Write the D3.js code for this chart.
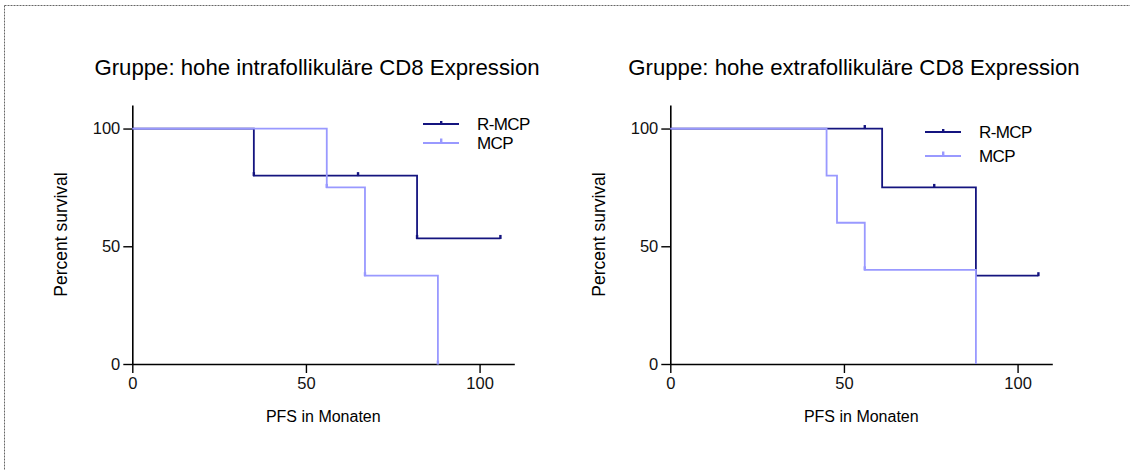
<!DOCTYPE html>
<html>
<head>
<meta charset="utf-8">
<script src="https://cdn.jsdelivr.net/npm/d3@7"></script>
<style>
  body { margin: 0; background: #fff; }
  svg { display: block; font-family: "Liberation Sans", Arial, sans-serif; }
</style>
</head>
<body>
<svg id="chart" width="1130" height="470"></svg>
<script>
// tick values
var xTicks = [0, 50, 100];
var yTicks = [0, 50, 100];
var seriesNames = ["R-MCP", "MCP"];

// left panel: hohe intrafollikuläre CD8 Expression
var leftRmcpTime = [0, 35, 82, 106];
var leftRmcpSurv = [100, 80, 53.33, 53.33];
var leftRmcpMarks = [[35, 80], [65, 80], [82, 53.33], [106, 53.33]];
var leftMcpTime = [0, 56, 67, 88];
var leftMcpSurv = [100, 75, 37.5, 0];
var leftMcpMarks = [[56, 75], [67, 37.5], [88, 0]];

// right panel: hohe extrafollikuläre CD8 Expression
var rightRmcpTime = [0, 61, 88, 106];
var rightRmcpSurv = [100, 75, 37.5, 37.5];
var rightRmcpMarks = [[56, 100], [76, 75], [106, 37.5]];
var rightMcpTime = [0, 45, 48, 56, 88];
var rightMcpSurv = [100, 80, 60, 40, 0];
var rightMcpMarks = [[56, 40]];

var colors = { "R-MCP": "#14147f", "MCP": "#9999ff" };

var svg = d3.select("#chart");

// dotted frame (top and left only)
svg.append("line").attr("x1", 4.5).attr("y1", 5.5).attr("x2", 1130).attr("y2", 5.5)
  .attr("stroke", "#666").attr("stroke-dasharray", "2,1");
svg.append("line").attr("x1", 4.5).attr("y1", 5.5).attr("x2", 4.5).attr("y2", 470)
  .attr("stroke", "#666").attr("stroke-dasharray", "2,1");

var panels = [
  {
    left: 132.3, title: "Gruppe: hohe intrafollikuläre CD8 Expression", titleX: 317,
    legendX: 423, legendY: [124, 143],
    series: [
      { name: "R-MCP", time: leftRmcpTime, surv: leftRmcpSurv, marks: leftRmcpMarks },
      { name: "MCP", time: leftMcpTime, surv: leftMcpSurv, marks: leftMcpMarks }
    ]
  },
  {
    left: 670.3, title: "Gruppe: hohe extrafollikuläre CD8 Expression", titleX: 854,
    legendX: 925, legendY: [132, 156],
    series: [
      { name: "R-MCP", time: rightRmcpTime, surv: rightRmcpSurv, marks: rightRmcpMarks },
      { name: "MCP", time: rightMcpTime, surv: rightMcpSurv, marks: rightMcpMarks }
    ]
  }
];

var plotTop = 105, plotBottom = 364, plotW = 382;

panels.forEach(function(p) {
  var g = svg.append("g").attr("transform", "translate(" + p.left + ",0)");

  var x = d3.scaleLinear().domain([0, 110]).range([0, plotW]);
  var y = d3.scaleLinear().domain([0, 110]).range([plotBottom, plotTop]);

  // title
  svg.append("text")
    .attr("x", p.titleX).attr("y", 75)
    .attr("text-anchor", "middle")
    .attr("font-size", 22.2)
    .text(p.title);

  // axes
  var xAxis = g.append("g")
    .attr("transform", "translate(0," + plotBottom + ")")
    .call(d3.axisBottom(x).tickValues(xTicks).tickSize(9).tickSizeOuter(0).tickPadding(4));
  var yAxis = g.append("g")
    .call(d3.axisLeft(y).tickValues(yTicks).tickSize(9).tickSizeOuter(0).tickPadding(3));

  [xAxis, yAxis].forEach(function(a) {
    a.select(".domain").attr("stroke", "#000").attr("stroke-width", 1.6);
    a.selectAll(".tick line").attr("stroke", "#000").attr("stroke-width", 1.4);
    a.selectAll(".tick text").attr("fill", "#111").attr("font-size", 16.5)
      .attr("font-family", "Liberation Sans, Arial, sans-serif");
  });

  // axis labels
  g.append("text")
    .attr("x", x(55)).attr("y", 422)
    .attr("text-anchor", "middle")
    .attr("font-size", 16)
    .text("PFS in Monaten");
  g.append("text")
    .attr("transform", "translate(-65.5," + ((plotTop + plotBottom) / 2) + ") rotate(-90)")
    .attr("text-anchor", "middle")
    .attr("font-size", 17.5)
    .text("Percent survival");

  var line = d3.line()
    .x(function(d) { return x(d[0]); })
    .y(function(d) { return y(d[1]); })
    .curve(d3.curveStepAfter);

  p.series.forEach(function(s) {
    var pts = s.time.map(function(t, i) { return [t, s.surv[i]]; });
    g.append("path")
      .datum(pts)
      .attr("fill", "none")
      .attr("stroke", colors[s.name])
      .attr("stroke-width", 1.8)
      .attr("d", line);

    // censor / point marks
    g.selectAll(null)
      .data(s.marks)
      .enter()
      .append("rect")
      .attr("x", function(d) { return x(d[0]) - 1.2; })
      .attr("y", function(d) { return y(d[1]) - 3.5; })
      .attr("width", 2.4)
      .attr("height", 4)
      .attr("fill", colors[s.name]);
  });

  // legend
  seriesNames.forEach(function(name, i) {
    var ly = p.legendY[i];
    svg.append("line")
      .attr("x1", p.legendX).attr("x2", p.legendX + 36)
      .attr("y1", ly).attr("y2", ly)
      .attr("stroke", colors[name]).attr("stroke-width", 1.8);
    svg.append("rect")
      .attr("x", p.legendX + 17).attr("y", ly - (i === 0 ? 3 : 4.5))
      .attr("width", 2.4).attr("height", i === 0 ? 4 : 5.5)
      .attr("fill", colors[name]);
    svg.append("text")
      .attr("x", p.legendX + 54).attr("y", ly + 6)
      .attr("font-size", 17)
      .attr("letter-spacing", -0.6)
      .text(name);
  });
});
</script>
</body>
</html>
